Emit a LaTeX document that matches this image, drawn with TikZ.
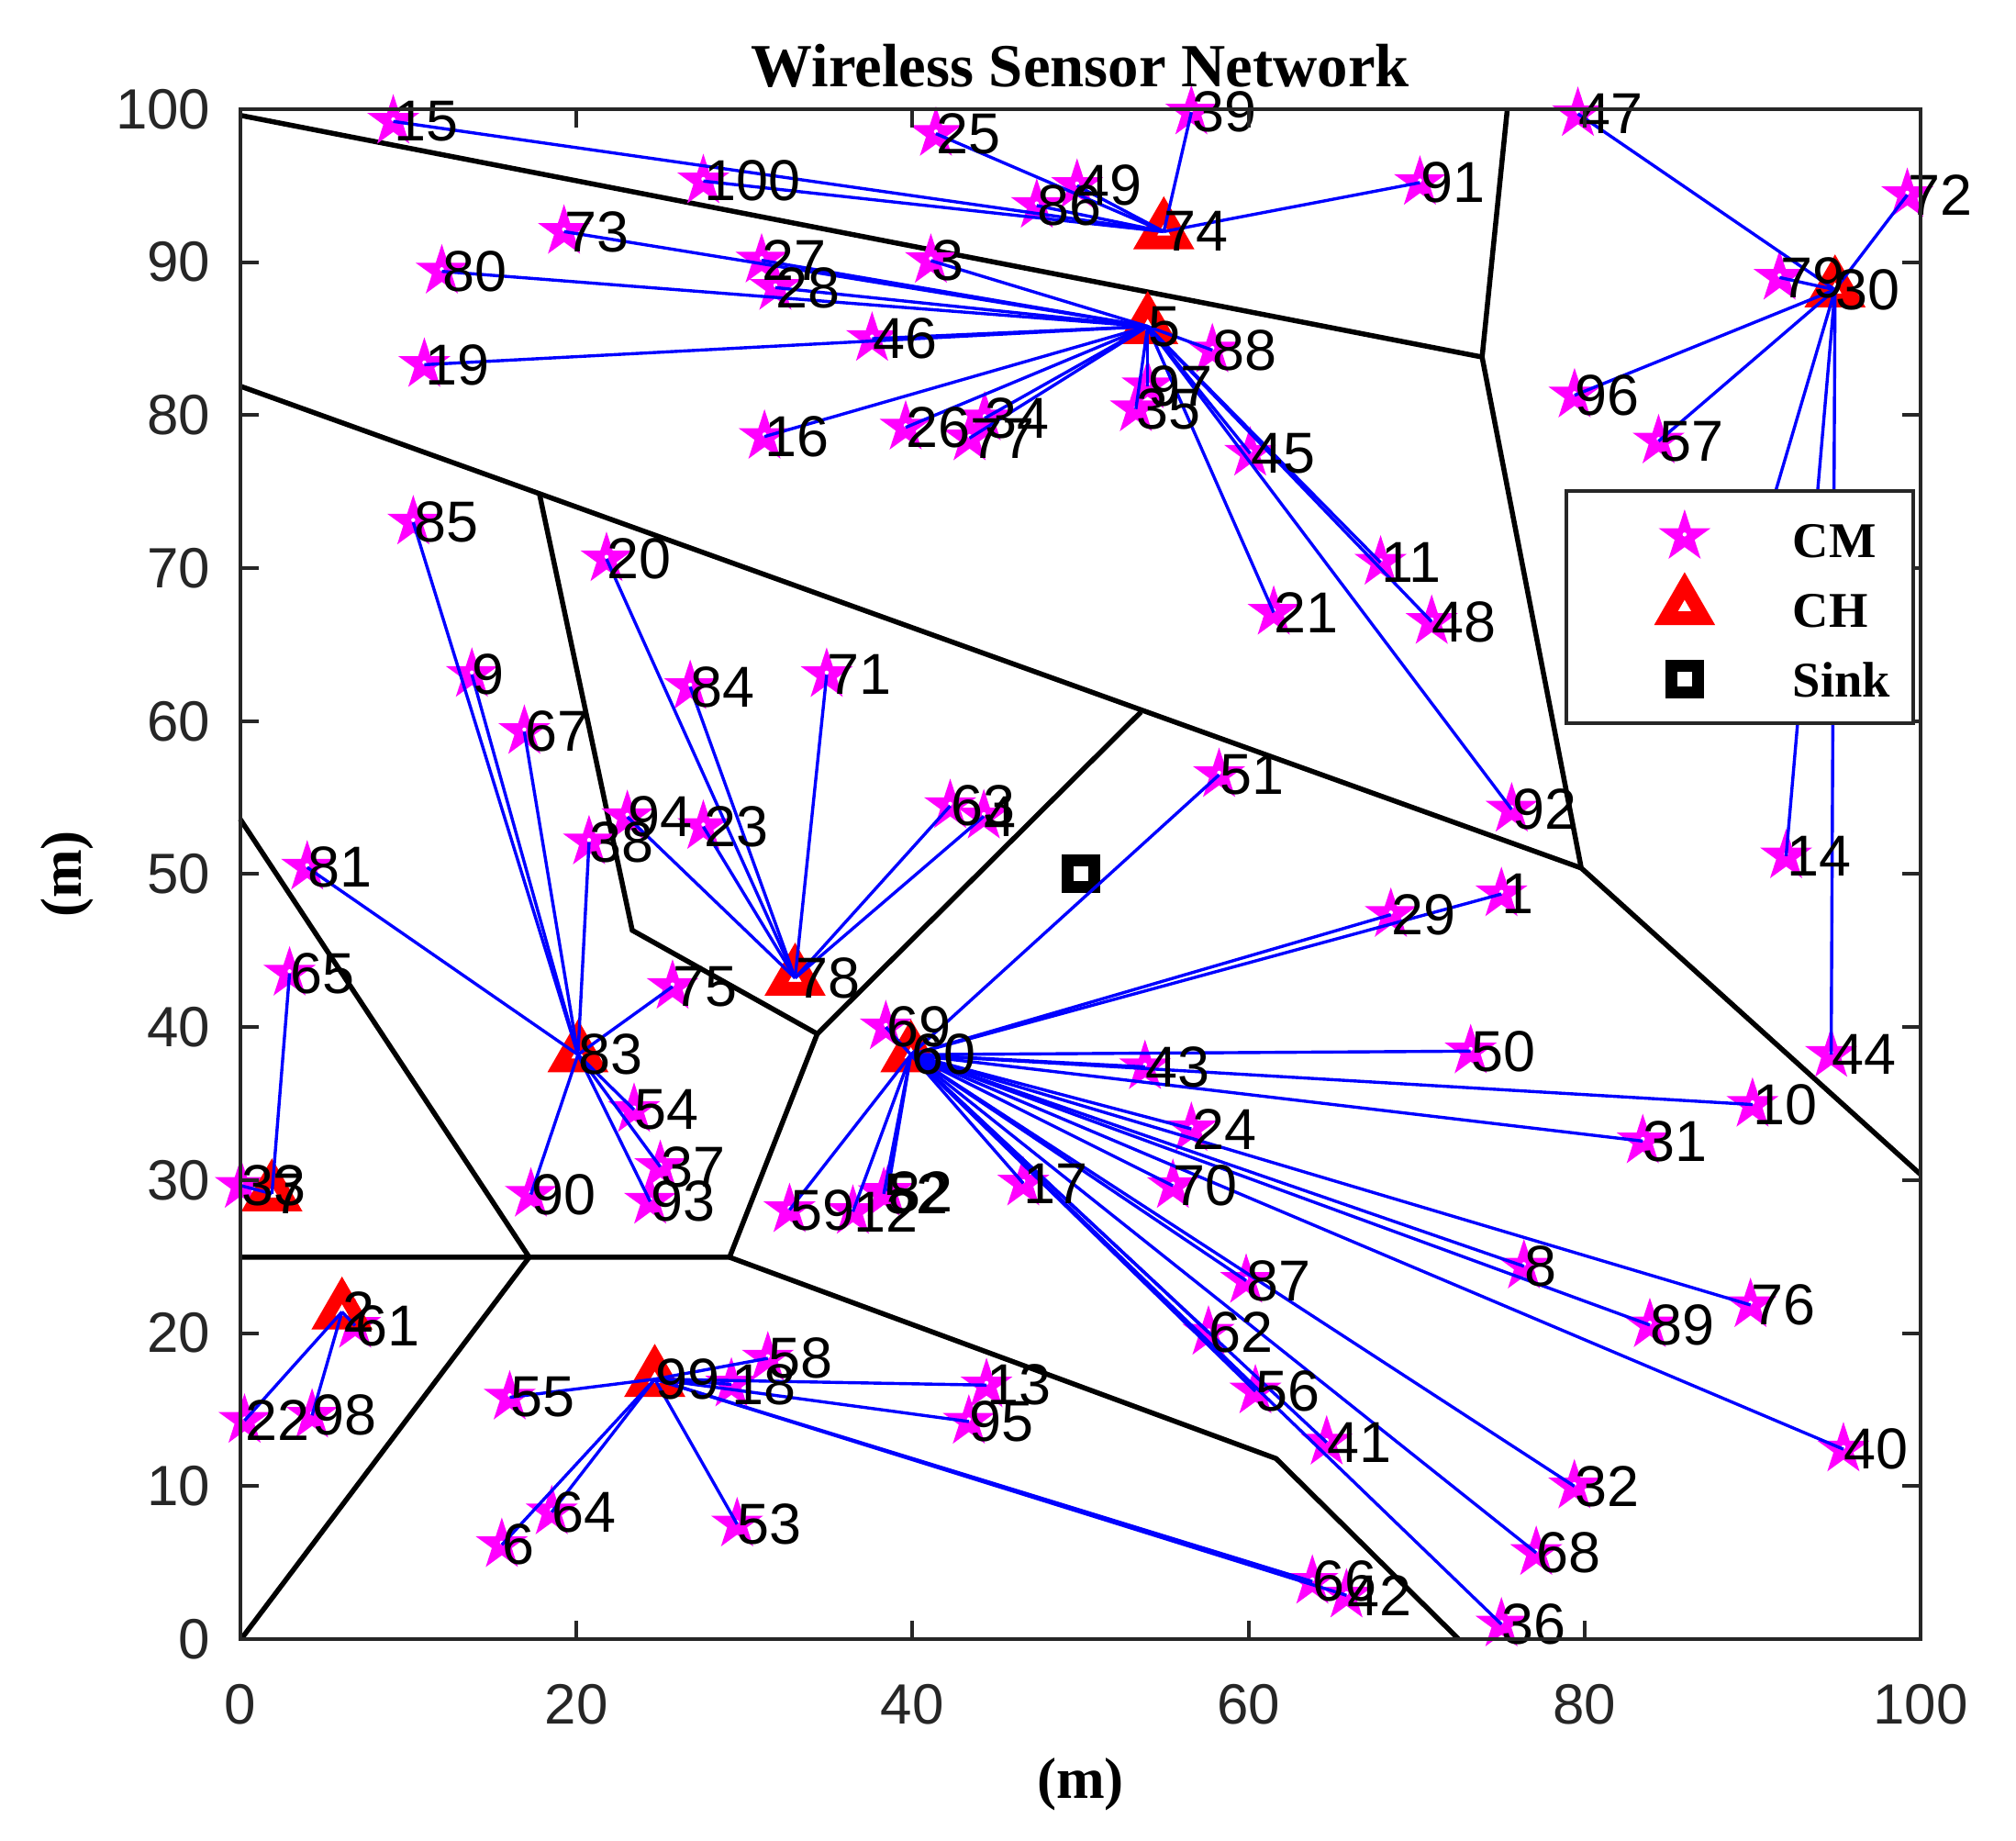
\documentclass[tikz,border=0pt]{standalone}
\usepackage{fontspec}
\setmainfont{Liberation Serif}
\setsansfont{Liberation Sans}
\usetikzlibrary{shapes.geometric}
\definecolor{axgray}{HTML}{262626}
\definecolor{mag}{RGB}{255,0,255}
\definecolor{chred}{RGB}{255,0,0}
\definecolor{lnblue}{RGB}{0,0,255}
\begin{document}
\begin{tikzpicture}[x=0.18315cm, y=0.1667cm,
  cmnode/.style={star, star points=5, star point ratio=2.618, minimum size=0.5cm, inner sep=0pt, draw=mag, fill=mag, line width=0.03cm,
    path picture={\fill[white] (path picture bounding box.center) circle (0.022cm);}},
  chnode/.style={regular polygon, regular polygon sides=3, minimum size=0.47cm, inner sep=0pt, draw=chred, fill=white, line width=0.15cm},
  sinkmark/.style={rectangle, minimum size=0.29cm, inner sep=0pt, draw=black, fill=white, line width=0.13cm},
  link/.style={lnblue, line width=0.034cm},
  vor/.style={black, line width=0.055cm},
  lbl/.style={anchor=west, inner sep=0pt, font=\sffamily\fontsize{17.9}{20}\selectfont},
  ticklbl/.style={inner sep=0pt, text=axgray, font=\sffamily\fontsize{17.6}{20}\selectfont},
  axline/.style={axgray, line width=0.04cm},
  legtext/.style={anchor=west, inner sep=0pt, font=\bfseries\fontsize{15.5}{18}\selectfont}]
\useasboundingbox (-14.29,-13.14) rectangle (105.67,107.14);

% Voronoi cells
\draw[vor] (0,99.6) -- (73.9,83.8) -- (75.4,100);
\draw[vor] (73.9,83.8) -- (79.8,50.4) -- (100,30.36);
\draw[vor] (0,81.9) -- (79.8,50.4);
\draw[vor] (17.8,74.9) -- (23.33,46.33) -- (34.34,39.56) -- (53.6,60.6);
\draw[vor] (34.34,39.56) -- (29.12,24.96) -- (0,24.96);
\draw[vor] (0,53.6) -- (17.2,24.96) -- (0.06,0);
\draw[vor] (29.12,24.96) -- (61.64,11.8) -- (72.5,0);

% cluster members
\foreach \i/\x/\y in {1/75.05/48.7, 3/41.1/90.1, 4/44.25/53.78, 6/15.57/6.16, 8/76.39/24.37,
  9/13.79/63.04, 10/89.99/34.94, 11/67.86/70.37, 12/36.46/27.94, 13/44.41/16.6, 14/91.99/51.18,
  15/9.11/99.2, 16/31.2/78.6, 17/46.6/29.79, 18/29.23/16.65, 19/10.96/83.3, 20/21.8/70.6,
  21/61.5/67.1, 22/0.26/14.28, 23/27.56/53.1, 24/56.6/33.35, 25/41.4/98.4, 26/39.6/79.2,
  27/31.03/90.12, 28/31.85/88.34, 29/68.47/47.35, 31/83.46/32.55, 32/79.39/9.99, 33/0.04/29.64,
  34/44.3/79.8, 35/53.3/80.4, 36/75.05/0.97, 37/25.0/30.87, 38/20.76/52.09, 39/56.6/99.8,
  40/95.4/12.41, 41/64.65/12.86, 42/65.83/2.86, 43/53.84/37.4, 44/94.67/38.2, 45/60.1/77.5,
  46/37.6/85.0, 47/79.6/99.7, 48/70.9/66.5, 49/49.8/95.0, 50/73.22/38.43, 51/58.25/56.49,
  52/38.3/29.1, 53/29.57/7.51, 54/23.44/34.6, 55/16.04/15.8, 56/60.41/16.2, 57/84.4/78.3,
  58/31.4/18.35, 59/32.69/28.05, 61/6.84/20.49, 62/57.62/20.04, 63/42.25/54.46, 64/18.54/8.3,
  65/2.94/43.51, 66/63.8/3.76, 67/16.91/59.31, 68/77.12/5.64, 69/38.42/40.0, 70/55.5/29.63,
  71/34.9/63.03, 72/99.2/94.4, 73/19.27/92.0, 75/25.73/42.65, 76/89.87/21.84, 77/43.4/78.5,
  79/91.6/89.0, 80/12.0/89.4, 81/3.99/50.44, 82/38.53/29.25, 84/26.78/62.24, 85/10.3/73.0,
  86/47.4/93.7, 87/59.86/23.43, 88/57.85/84.25, 89/83.88/20.53, 90/17.3/29.06, 91/70.2/95.2,
  92/75.66/54.23, 93/24.4/28.6, 94/23.04/53.74, 95/43.36/14.22, 96/79.4/81.3, 97/54.0/81.9,
  98/4.28/14.62, 100/27.56/95.3}
  \node[cmnode] (n\i) at (\x,\y) {};

% cluster heads
\foreach \i/\x/\y in {2/6.06/21.39, 5/54.0/85.8, 7/1.89/29.11, 30/94.9/88.2, 60/39.91/38.2,
  74/54.96/92.0, 78/33.02/43.21, 83/20.1/38.2, 99/24.67/16.99}
  \node[chnode] (n\i) at (\x,\y) {};

% sink
\node[sinkmark] (sink) at (50.05,50.0) {};

% links
\coordinate (hid) at (88.7,65.1);
\foreach \h/\m in {74/15, 74/100, 74/25, 74/49, 74/86, 74/39, 74/91,
  5/73, 5/27, 5/28, 5/80, 5/3, 5/46, 5/19, 5/16, 5/26, 5/77, 5/34, 5/88, 5/97, 5/35, 5/45, 5/11, 5/48, 5/21, 5/92,
  30/47, 30/72, 30/79, 30/96, 30/57, 30/14, 30/44,
  78/20, 78/84, 78/71, 78/94, 78/23, 78/63, 78/4,
  83/85, 83/9, 83/67, 83/38, 83/81, 83/75, 83/54, 83/37, 83/93, 83/90,
  7/65, 7/33, 2/22, 2/98, 2/61,
  99/55, 99/6, 99/64, 99/53, 99/58, 99/18, 99/13, 99/95, 99/66, 99/42,
  60/69, 60/51, 60/29, 60/1, 60/50, 60/43, 60/10, 60/31, 60/24, 60/70, 60/17, 60/8, 60/76,
  60/89, 60/40, 60/87, 60/62, 60/56, 60/41, 60/32, 60/68, 60/36, 60/59, 60/12, 60/52, 60/82}
  \draw[link] (n\h.center) -- (n\m.center);
\draw[link] (n30.center) -- (hid);

% labels
\foreach \i in {1,...,100}
  \node[lbl] (t\i) at (n\i.center) {\i};

% axes box and ticks
\draw[axline] (0,0) rectangle (100,100);
\foreach \v in {0,20,...,100} {
  \draw[axline] (\v,0) -- (\v,1.2);
  \draw[axline] (\v,100) -- (\v,98.8);
  \node[ticklbl] (xt\v) at (\v,-4.3) {\v};
}
\foreach \v in {0,10,...,100} {
  \draw[axline] (0,\v) -- (1.092,\v);
  \draw[axline] (100,\v) -- (98.908,\v);
  \node[ticklbl, anchor=east] (yt\v) at (-1.73,\v) {\v};
}

% legend
\node[draw=axgray, line width=0.04cm, fill=white, inner sep=0pt, minimum width=20.64*0.18315cm, minimum height=15.18*0.1667cm, anchor=south west] (legend) at (78.8,59.75) {};
\node[cmnode] (legcm) at (85.95,72.06) {};
\node[chnode] (legch) at (85.95,67.43) {};
\node[sinkmark] (legsink) at (85.95,62.76) {};
\node[legtext] (legcmt) at (92.35,71.75) {CM};
\node[legtext] (legcht) at (92.35,67.2) {CH};
\node[legtext] (legsinkt) at (92.35,62.7) {Sink};

% title and axis labels
\node[inner sep=0pt, font=\bfseries\fontsize{19}{22}\selectfont] (title) at (50,102.8) {Wireless Sensor Network};
\node[inner sep=0pt, font=\bfseries\fontsize{18}{21}\selectfont] (xlab) at (50,-9.5) {(m)};
\node[inner sep=0pt, rotate=90, font=\bfseries\fontsize{18}{21}\selectfont] (ylab) at (-10.31,50) {(m)};
\end{tikzpicture}
\end{document}
